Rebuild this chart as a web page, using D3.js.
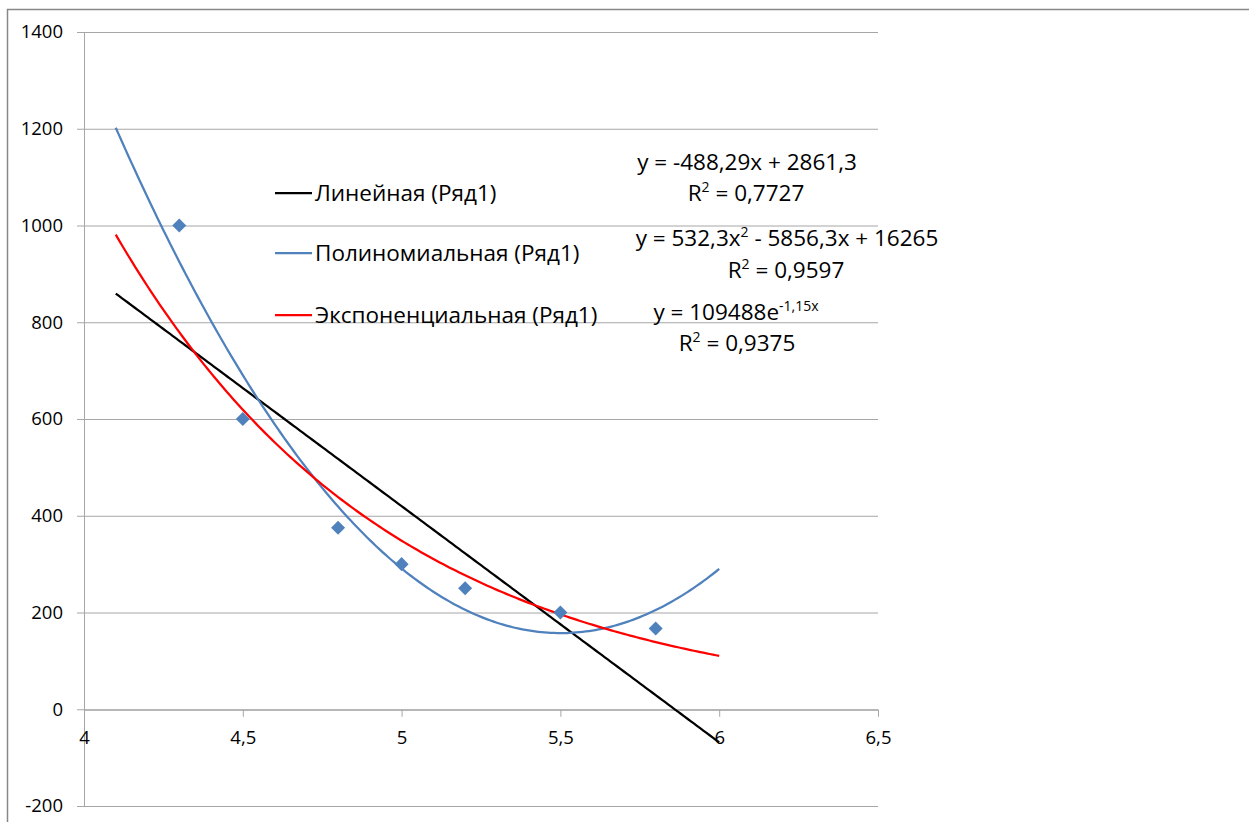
<!DOCTYPE html>
<html><head><meta charset="utf-8">
<script src="https://cdn.jsdelivr.net/npm/d3@7"></script>
<style>body{margin:0;background:#fff}svg{display:block}text{font-family:"Open Sans",sans-serif;fill:#000}</style>
</head><body><svg id="c" width="1249" height="822"></svg>
<script>
const xData = [4.3, 4.5, 4.8, 5.0, 5.2, 5.5, 5.8];
const yData = [1000, 600, 375, 300, 250, 200, 167];
const xTicks = [4, 4.5, 5, 5.5, 6, 6.5];
const xTickLabels = ["4", "4,5", "5", "5,5", "6", "6,5"];
const yTicks = [-200, 0, 200, 400, 600, 800, 1000, 1200, 1400];
const yTickLabels = ["-200", "0", "200", "400", "600", "800", "1000", "1200", "1400"];
const trendNames = ["Линейная (Ряд1)", "Полиномиальная (Ряд1)", "Экспоненциальная (Ряд1)"];
const trendColors = ["#000000", "#4F81BD", "#FF0000"];
const linCoef = [-488.29, 2861.3];          // a*x + b
const polyCoef = [532.3, -5856.3, 16265];   // a*x^2 + b*x + c
const expCoef = [109488, -1.15];            // a*e^(b*x)
const trendRange = [4.1, 6];

const svg = d3.select("#c");
const x = d3.scaleLinear().domain([4, 6.5]).range([84, 878]);
const y = d3.scaleLinear().domain([-200, 1400]).range([806, 32]);

// outer border
svg.append("path").attr("d","M7.5,822 L7.5,9.5 L1249,9.5").attr("fill","none").attr("stroke","#888").attr("stroke-width",1.5);

const yAxis = d3.axisLeft(y).tickValues(yTicks).tickSize(7).tickFormat((d,i)=>yTickLabels[i]);
const gy = svg.append("g").attr("transform","translate(84,0)").call(yAxis);
gy.select(".domain").attr("stroke","#a6a6a6");
gy.selectAll(".tick line").attr("stroke","#a6a6a6");
gy.selectAll(".tick text").attr("x",-21).style("font-size","18.5px").attr("font-family","'Open Sans',sans-serif");
svg.append("g").selectAll("line").data(yTicks).join("line")
  .attr("x1",84).attr("x2",878).attr("y1",d=>y(d)+0.5).attr("y2",d=>y(d)+0.5)
  .attr("stroke","#a6a6a6").attr("stroke-width",1);

const xAxis = d3.axisBottom(x).tickValues(xTicks).tickSize(7).tickSizeOuter(0).tickFormat((d,i)=>xTickLabels[i]);
const gx = svg.append("g").attr("transform",`translate(0,${y(0)+0.5})`).call(xAxis);
gx.select(".domain").attr("stroke","#a6a6a6");
gx.selectAll(".tick line").attr("stroke","#a6a6a6");
gx.selectAll(".tick text").attr("y",21).style("font-size","18.5px").attr("font-family","'Open Sans',sans-serif");

// trendlines
const xs = d3.range(trendRange[0], trendRange[1] + 1e-9, 0.01);
const fns = [
  v => linCoef[0]*v + linCoef[1],
  v => polyCoef[0]*v*v + polyCoef[1]*v + polyCoef[2],
  v => expCoef[0]*Math.exp(expCoef[1]*v)
];
const line = d3.line().x(d=>x(d[0])).y(d=>y(d[1]));
fns.forEach((f,i)=>{
  svg.append("path").datum(xs.map(v=>[v,f(v)])).attr("d",line)
    .attr("fill","none").attr("stroke",trendColors[i]).attr("stroke-width",2.25);
});

// markers
svg.append("g").selectAll("path").data(xData.map((v,i)=>[v,yData[i]])).join("path")
  .attr("d", d3.symbol().type(d3.symbolDiamond2).size(125))
  .attr("transform", d=>`translate(${x(d[0])},${y(d[1])})`)
  .attr("fill","#4F81BD");

// legend
const legY = [193, 253, 315];
trendNames.forEach((n,i)=>{
  svg.append("line").attr("x1",275).attr("x2",312).attr("y1",legY[i]).attr("y2",legY[i])
    .attr("stroke",trendColors[i]).attr("stroke-width",2.25);
  svg.append("text").attr("x",315).attr("y",legY[i]).attr("dy","0.35em").style("font-size","22.5px").text(n);
});

// equation labels
function eq(cx, cy, parts){
  const t = svg.append("text").attr("x",cx).attr("y",cy).attr("dy","0.35em").attr("text-anchor","middle").style("font-size","22.5px");
  parts.forEach(p=>{
    const s = t.append("tspan").text(p[0]);
    if(p[1]==="sup") s.attr("baseline-shift","super").style("font-size","14px");
  });
}
eq(747,162,[["y = -488,29x + 2861,3"]]);
eq(746,193,[["R"],["2","sup"],[" = 0,7727"]]);
eq(787,238,[["y = 532,3x"],["2","sup"],[" - 5856,3x + 16265"]]);
eq(786,270,[["R"],["2","sup"],[" = 0,9597"]]);
eq(736,312,[["y = 109488e"],["-1,15x","sup"]]);
eq(737,343,[["R"],["2","sup"],[" = 0,9375"]]);
</script></body></html>
